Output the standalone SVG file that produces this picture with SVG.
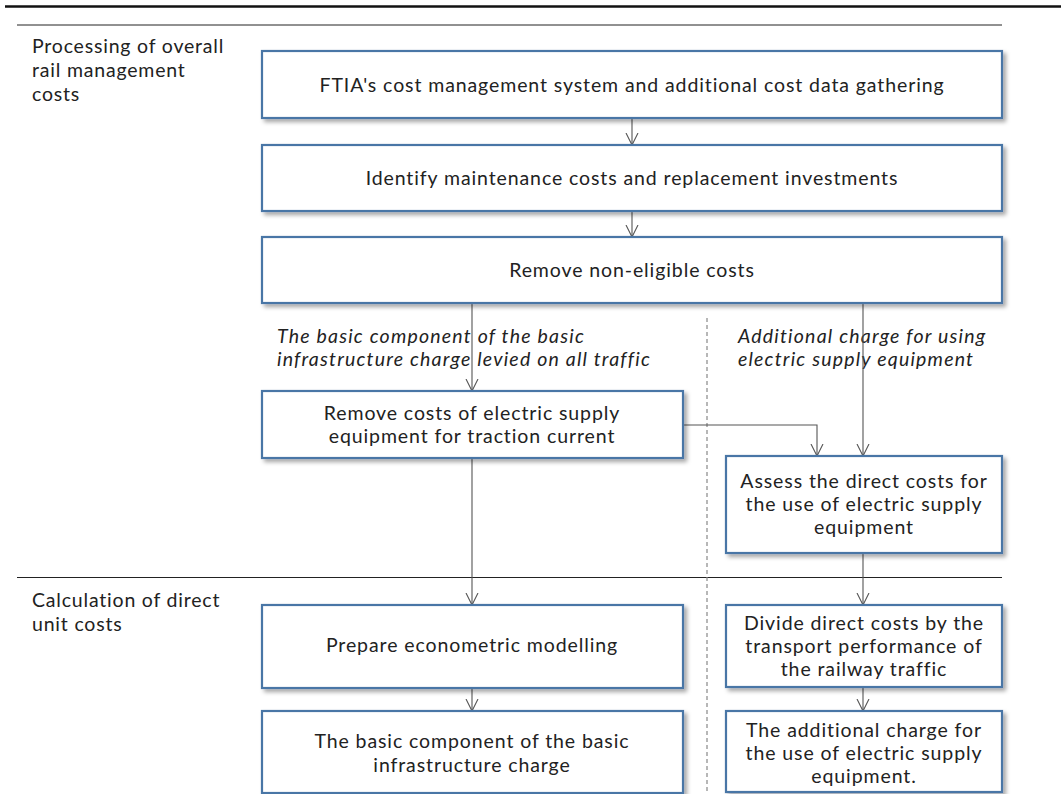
<svg xmlns="http://www.w3.org/2000/svg" width="1061" height="794" viewBox="0 0 1061 794">
<defs>
<style>
.box{fill:#fff;stroke:#4a76a6;stroke-width:2.2;filter:url(#sh)}
.t{font-family:Lato,"Liberation Sans",sans-serif;font-size:19.5px;letter-spacing:0.9px;fill:#222;text-anchor:middle}
.lab{font-family:Lato,"Liberation Sans",sans-serif;font-size:19.5px;letter-spacing:0.8px;fill:#222}
.it{font-family:Lato,"Liberation Sans",sans-serif;font-size:19.5px;letter-spacing:1.2px;fill:#222;font-style:italic}
.c{fill:none;stroke:#555;stroke-width:1.1}
.ca{fill:none;stroke:#555;stroke-width:1.1;marker-end:url(#arr)}
</style>
<filter id="sh" x="-5%" y="-10%" width="115%" height="130%">
<feDropShadow dx="3" dy="3" stdDeviation="2" flood-color="#000" flood-opacity="0.35"/>
</filter>
<marker id="arr" viewBox="0 -7 13 14" refX="12" refY="0" markerWidth="13" markerHeight="14" markerUnits="userSpaceOnUse" orient="auto">
<path d="M0,-6 L12,0 L0,6" fill="none" stroke="#555" stroke-width="1.1"/>
</marker>
</defs>
<rect width="1061" height="794" fill="#fff"/>
<g id="rules">
<line x1="5" y1="6.5" x2="1061" y2="6.5" stroke="#111" stroke-width="2.5"/>
<line x1="17" y1="25" x2="1002" y2="25" stroke="#222" stroke-width="1"/>
<line x1="17" y1="577.5" x2="1002" y2="577.5" stroke="#222" stroke-width="1"/>
<line x1="707" y1="318" x2="707" y2="794" stroke="#888" stroke-width="1.2" stroke-dasharray="4 3"/>
</g>
<g id="section-labels">
<text class="lab" x="32" y="53">Processing of overall</text>
<text class="lab" x="32" y="77">rail management</text>
<text class="lab" x="32" y="101">costs</text>
<text class="lab" x="32" y="607">Calculation of direct</text>
<text class="lab" x="32" y="631">unit costs</text>
</g>
<g id="branch-labels">
<text class="it" x="277" y="343">The basic component of the basic</text>
<text class="it" x="277" y="366">infrastructure charge levied on all traffic</text>
<text class="it" x="738" y="343">Additional charge for using</text>
<text class="it" x="738" y="366">electric supply equipment</text>
</g>
<g id="connectors">
<line class="ca" x1="632" y1="118" x2="632" y2="145"/>
<line class="ca" x1="632" y1="211" x2="632" y2="237"/>
<line class="ca" x1="472" y1="303" x2="472" y2="391"/>
<line class="ca" x1="863" y1="303" x2="863" y2="456"/>
<polyline class="ca" points="683,425 817,425 817,456"/>
<line class="ca" x1="472" y1="458" x2="472" y2="605"/>
<line class="ca" x1="863" y1="553" x2="863" y2="605"/>
<line class="ca" x1="472" y1="688" x2="472" y2="711"/>
<line class="ca" x1="863" y1="687" x2="863" y2="711"/>
</g>
<g id="n1"><rect class="box" x="262" y="51" width="740" height="67"/>
<text class="t" x="632" y="92">FTIA's cost management system and additional cost data gathering</text></g>
<g id="n2"><rect class="box" x="262" y="145" width="740" height="66"/>
<text class="t" x="632" y="185">Identify maintenance costs and replacement investments</text></g>
<g id="n3"><rect class="box" x="262" y="237" width="740" height="66"/>
<text class="t" x="632" y="277">Remove non-eligible costs</text></g>
<g id="n4"><rect class="box" x="262" y="391" width="421" height="67"/>
<text class="t" x="472" y="420">Remove costs of electric supply</text>
<text class="t" x="472" y="443">equipment for traction current</text></g>
<g id="n5"><rect class="box" x="726" y="456" width="276" height="97"/>
<text class="t" x="864" y="488">Assess the direct costs for</text>
<text class="t" x="864" y="511">the use of electric supply</text>
<text class="t" x="864" y="534">equipment</text></g>
<g id="n6"><rect class="box" x="262" y="605" width="421" height="83"/>
<text class="t" x="472" y="652">Prepare econometric modelling</text></g>
<g id="n7"><rect class="box" x="262" y="711" width="421" height="82"/>
<text class="t" x="472" y="748">The basic component of the basic</text>
<text class="t" x="472" y="772">infrastructure charge</text></g>
<g id="n8"><rect class="box" x="726" y="605" width="276" height="82"/>
<text class="t" x="864" y="630">Divide direct costs by the</text>
<text class="t" x="864" y="653">transport performance of</text>
<text class="t" x="864" y="676">the railway traffic</text></g>
<g id="n9"><rect class="box" x="726" y="711" width="276" height="81"/>
<text class="t" x="864" y="737">The additional charge for</text>
<text class="t" x="864" y="760">the use of electric supply</text>
<text class="t" x="864" y="783">equipment.</text></g>
</svg>
